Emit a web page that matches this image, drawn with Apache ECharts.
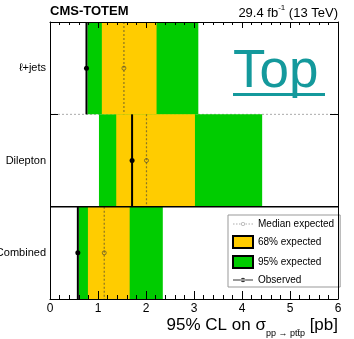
<!DOCTYPE html>
<html>
<head>
<meta charset="utf-8">
<script src="https://cdn.jsdelivr.net/npm/echarts@6/dist/echarts.min.js"></script>
<style>
  html, body { margin: 0; padding: 0; background: #fff; }
  #chart { width: 354px; height: 339px; }
</style>
</head>
<body>
<div id="chart"></div>
<script>
// Channels, bottom to top
const rows = ['Combined', 'Dilepton', 'ℓ+jets'];
// 95% CL upper limits on the cross section [pb]
const observed = [0.58, 1.71, 0.76];
const median = [1.13, 2.01, 1.54];
const band68Lo = [0.79, 1.38, 1.08];
const band68Hi = [1.66, 3.02, 2.22];
const band95Lo = [0.60, 1.02, 0.78];
const band95Hi = [2.35, 4.42, 3.09];
const xTicks = [0, 1, 2, 3, 4, 5, 6];

const FONT = '"Liberation Sans", Arial, Helvetica, sans-serif';
const YELLOW = '#ffcc00';
const GREEN = '#00cc00';

// legend glyphs: dotted line with an open marker, solid line with a filled marker
const ICON_MEDIAN = 'path://' +
  'M0,5.5h1.5v1h-1.5z M3,5.5h1.5v1h-1.5z M6,5.5h1.5v1h-1.5z ' +
  'M12.5,5.5h1.5v1h-1.5z M15.5,5.5h1.5v1h-1.5z M18.5,5.5h1.5v1h-1.5z ' +
  'M8,6a2,2 0 1,0 4,0a2,2 0 1,0 -4,0z M8.8,6a1.2,1.2 0 1,1 2.4,0a1.2,1.2 0 1,1 -2.4,0z';
const ICON_OBSERVED = 'path://' +
  'M0,5.4h20v1.2h-20z M7.8,6a2.2,2.2 0 1,0 4.4,0a2.2,2.2 0 1,0 -4.4,0z';

function bandSeries(name, lo, hi, color, z) {
  return {
    type: 'custom', name: name, z: z,
    itemStyle: { color: color, borderColor: '#000', borderWidth: 1 },
    encode: { x: [0, 1], y: 2 },
    data: rows.map((r, i) => [lo[i], hi[i], i]),
    renderItem: function (params, api) {
      const a = api.coord([api.value(0), api.value(2)]);
      const b = api.coord([api.value(1), api.value(2)]);
      const h = api.size([0, 1])[1];
      return {
        type: 'rect',
        shape: { x: a[0], y: a[1] - h / 2, width: b[0] - a[0], height: h },
        style: { fill: color }
      };
    }
  };
}

function limitSeries(values, lineStyle, dot, z) {
  return {
    type: 'custom', z: z, silent: true,
    encode: { x: 0, y: 1 },
    data: rows.map((r, i) => [values[i], i]),
    renderItem: function (params, api) {
      const c = api.coord([api.value(0), api.value(1)]);
      const h = api.size([0, 1])[1];
      return {
        type: 'group',
        children: [
          { type: 'line', shape: { x1: c[0], y1: c[1] - h / 2, x2: c[0], y2: c[1] + h / 2 }, style: lineStyle },
          { type: 'circle', shape: { cx: c[0], cy: c[1], r: dot.r }, style: dot.style }
        ]
      };
    }
  };
}

// horizontal divider along the top edge of a row
function dividerSeries(rowIndex, style, z) {
  return {
    type: 'custom', z: z, silent: true,
    encode: { x: 0, y: 1 },
    data: [[0, rowIndex]],
    renderItem: function (params, api) {
      const a = api.coord([xTicks[0], api.value(1)]);
      const b = api.coord([xTicks[xTicks.length - 1], api.value(1)]);
      const h = api.size([0, 1])[1];
      const y = a[1] - h / 2;
      return { type: 'line', shape: { x1: a[0], y1: y, x2: b[0], y2: y }, style: style };
    }
  };
}

const chart = echarts.init(document.getElementById('chart'), null, { renderer: 'canvas' });

const xBase = {
  type: 'value', min: xTicks[0], max: xTicks[xTicks.length - 1], interval: 1, z: 10,
  splitLine: { show: false },
  axisLine: { show: true, onZero: false, lineStyle: { color: '#000', width: 1 } }
};
const yBase = {
  type: 'category', data: rows, boundaryGap: true, z: 10,
  splitLine: { show: false },
  axisLine: { show: true, onZero: false, lineStyle: { color: '#000', width: 1 } },
  axisTick: { show: true, inside: true, length: 8, lineStyle: { color: '#000' } }
};

chart.setOption({
  animation: false,
  backgroundColor: '#fff',
  textStyle: { fontFamily: FONT },
  grid: { left: 50, right: 16, top: 22, bottom: 40, containLabel: false, outerBoundsMode: 'none' },
  xAxis: [
    Object.assign({}, xBase, {
      position: 'bottom',
      axisTick: { show: true, inside: true, length: 8, lineStyle: { color: '#000' } },
      minorTick: { show: true, splitNumber: 5, length: 4, lineStyle: { color: '#000' } },
      axisLabel: { show: true, color: '#000', fontSize: 12, fontFamily: FONT, margin: 4,
        formatter: v => xTicks.includes(v) ? String(v) : '' }
    }),
    Object.assign({}, xBase, {
      position: 'top',
      axisTick: { show: true, inside: true, length: 6, lineStyle: { color: '#000' } },
      minorTick: { show: true, splitNumber: 5, length: 3, lineStyle: { color: '#000' } },
      axisLabel: { show: false }
    })
  ],
  yAxis: [
    Object.assign({}, yBase, {
      position: 'left',
      axisLabel: { show: true, color: '#000', fontSize: 11, fontFamily: FONT, margin: 4 }
    }),
    Object.assign({}, yBase, { position: 'right', axisLabel: { show: false } })
  ],
  legend: {
    left: 228, top: 215, orient: 'vertical',
    backgroundColor: '#fff', borderColor: '#999', borderWidth: 1,
    padding: [4, 6, 2, 4], itemGap: 6, itemWidth: 20, itemHeight: 12,
    textStyle: { fontSize: 10, color: '#000', fontFamily: FONT },
    data: [
      { name: 'Median expected', icon: ICON_MEDIAN },
      { name: '68% expected', icon: 'rect' },
      { name: '95% expected', icon: 'rect' },
      { name: 'Observed', icon: ICON_OBSERVED }
    ]
  },
  graphic: [
    { type: 'text', left: 50, top: 5,
      style: { text: 'CMS-TOTEM', font: 'bold 13px ' + FONT, fill: '#000' } },
    { type: 'text', right: 16, top: 4,
      style: { text: '{a|29.4 fb}{s|-1}{a| (13 TeV)}', fill: '#000',
        rich: { a: { fontSize: 13, fontFamily: FONT, verticalAlign: 'bottom', lineHeight: 16 },
                s: { fontSize: 8, fontFamily: FONT, verticalAlign: 'top', lineHeight: 16 } } } },
    { type: 'text', right: 16, top: 317,
      style: { text: '{a|95% CL on σ}{s|pp → ptt\u0304p}{a| [pb]}', fill: '#000',
        rich: { a: { fontSize: 17, fontFamily: FONT, verticalAlign: 'top', lineHeight: 18 },
                s: { fontSize: 9, fontFamily: FONT, verticalAlign: 'bottom', lineHeight: 21 } } } },
    { type: 'text', x: 233, y: 46, z: 20,
      style: { text: 'Top', font: '53px ' + FONT, fill: '#14999c' } },
    { type: 'rect', z: 20, shape: { x: 233, y: 93, width: 92, height: 3 }, style: { fill: '#14999c' } }
  ],
  series: [
    // faint divider between the Dilepton and ℓ+jets rows, beneath the bands
    dividerSeries(1, { stroke: '#aaa', lineWidth: 1, lineDash: [2, 2] }, 1),
    bandSeries('95% expected', band95Lo, band95Hi, GREEN, 2),
    bandSeries('68% expected', band68Lo, band68Hi, YELLOW, 3),
    limitSeries(median,
      { stroke: 'rgba(60,60,60,0.6)', lineWidth: 1.2, lineDash: [2, 2] },
      { r: 2, style: { fill: 'none', stroke: 'rgba(60,60,60,0.6)', lineWidth: 1 } }, 4),
    limitSeries(observed,
      { stroke: '#000', lineWidth: 2 },
      { r: 2.5, style: { fill: '#000' } }, 5),
    // solid divider between the Combined and Dilepton rows
    dividerSeries(0, { stroke: '#000', lineWidth: 1.5 }, 6),
    // legend entries for the line-style marks
    { type: 'scatter', name: 'Median expected', data: [], itemStyle: { color: '#999', borderWidth: 0 } },
    { type: 'scatter', name: 'Observed', data: [], itemStyle: { color: '#000', borderWidth: 0 } }
  ]
});
</script>
</body>
</html>
